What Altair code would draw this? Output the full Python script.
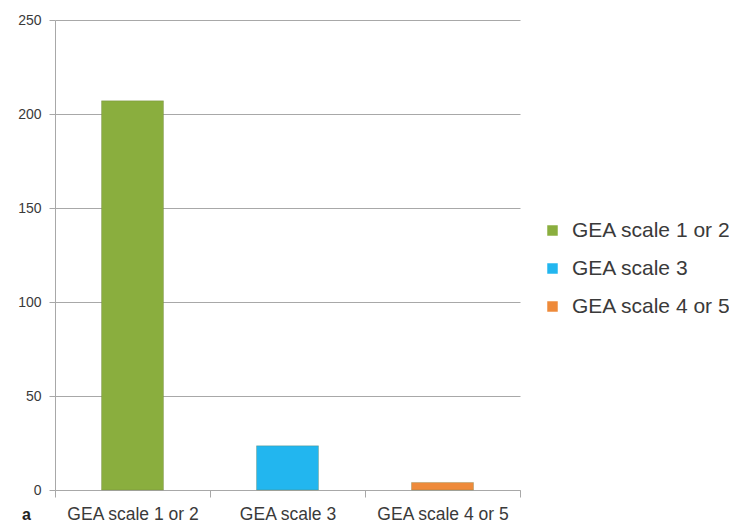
import altair as alt
import pandas as pd

categories = ["GEA scale 1 or 2", "GEA scale 3", "GEA scale 4 or 5"]
values = [207, 23.5, 4]
colors = ["#8aae3e", "#22b6ef", "#ee8a3a"]

df = pd.DataFrame({"cat": categories, "value": values})

font = "Liberation Sans, Arial, sans-serif"

bars = alt.Chart(df).mark_bar(width={"band": 0.4}, stroke="#6a7a40", strokeWidth=0.6,
                              strokeOpacity=0.5).encode(
    x=alt.X("cat:N", sort=categories,
            scale=alt.Scale(paddingInner=0, paddingOuter=0),
            axis=alt.Axis(title=None, labelAngle=0, tickBand="extent", labelFontSize=17.5,
                          labelColor="#3a3a3a", labelFont=font, labelPadding=8,
                          domainColor="#a8a8a8", tickColor="#a8a8a8", tickSize=7,
                          grid=False)),
    y=alt.Y("value:Q", scale=alt.Scale(domain=[0, 250]),
            axis=alt.Axis(title=None, values=[0, 50, 100, 150, 200, 250], labelFontSize=14,
                          labelColor="#3a3a3a", labelFont=font, labelPadding=8,
                          domainColor="#a8a8a8", tickColor="#a8a8a8", tickSize=6,
                          gridColor="#a8a8a8", gridWidth=1)),
    color=alt.Color("cat:N", sort=categories,
                    scale=alt.Scale(domain=categories, range=colors),
                    legend=alt.Legend(title=None, orient="none", legendX=487, legendY=200,
                                      symbolType="square", symbolSize=110, labelFontSize=21,
                                      labelFont=font, labelColor="#3a3a3a", rowPadding=16,
                                      symbolStrokeWidth=0, labelOffset=9)),
)

label_a = alt.Chart(pd.DataFrame({"t": ["a"]})).mark_text(
    fontSize=16, fontWeight="bold", color="#222222", font=font, align="left"
).encode(text="t:N", x=alt.value(-33), y=alt.value(495))

chart = alt.layer(bars, label_a).properties(
    width=465, height=470,
    padding={"left": 55, "top": 20, "right": 209, "bottom": 37},
    autosize=alt.AutoSizeParams(type="none"),
).configure(background="white").configure_view(stroke=None)

chart.save("out.html", embed_options={"renderer": "svg", "actions": False})
